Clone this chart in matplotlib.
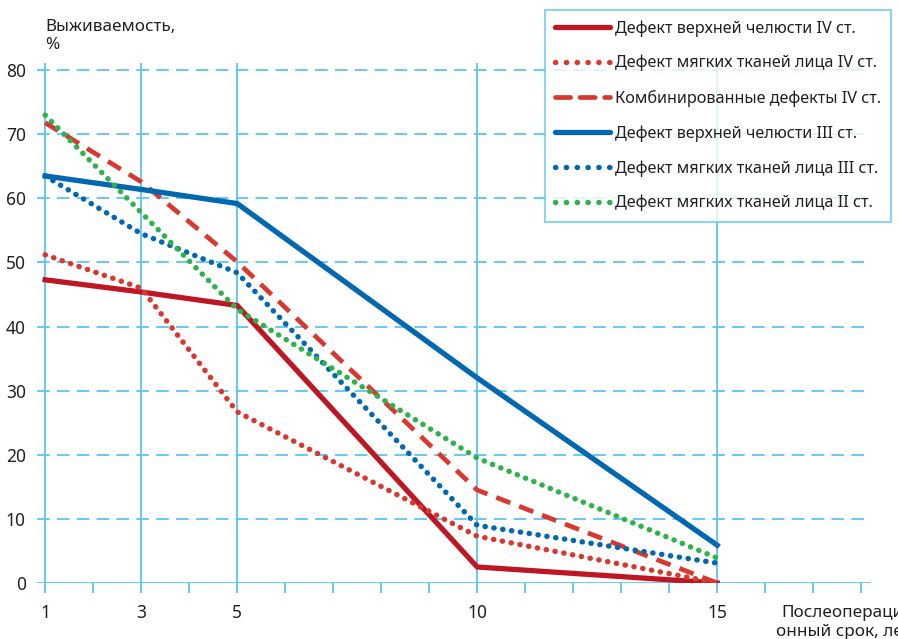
import matplotlib.pyplot as plt
from matplotlib.lines import Line2D

plt.rcParams['font.family'] = ['Noto Sans', 'DejaVu Sans']

# postoperative years
years = [1, 3, 5, 10, 15]
labelled_years = [1, 3, 5, 10, 15]

# survival, %
jaw_iv = [47.3, 45.4, 43.3, 2.5, 0]
soft_iv = [51.2, 46.0, 26.7, 7.3, 0]
combined_iv = [71.8, 62.6, 50.1, 14.5, 0]
jaw_iii = [63.5, 61.4, 59.2, 32.0, 5.9]
soft_iii = [63.5, 54.5, 48.4, 9.0, 3.1]
soft_ii = [73.0, 57.8, 42.7, 19.5, 3.9]

names = [
    "Дефект верхней челюсти IV ст.",
    "Дефект мягких тканей лица IV ст.",
    "Комбинированные дефекты IV ст.",
    "Дефект верхней челюсти III ст.",
    "Дефект мягких тканей лица III ст.",
    "Дефект мягких тканей лица II ст.",
]

grid_c = '#5BC5F0'
dark_red = '#BE1622'
red = '#D9382F'
blue = '#0067B1'
green = '#2DB34A'
text_c = '#231F20'

fig = plt.figure(figsize=(8.98, 6.39), dpi=100)
ax = fig.add_axes([37 / 898, 56 / 639, 833.8 / 898, 520.5 / 639])
ax.set_xlim(0.83, 18.2)
ax.set_ylim(0, 81.2)
for s in ax.spines.values():
    s.set_visible(False)

# grid
for v in range(10, 81, 10):
    ax.axhline(v, color=grid_c, lw=1.3, ls=(0, (7, 4)), zorder=1)
for x in labelled_years:
    ax.axvline(x, color=grid_c, lw=1.3, zorder=1)
ax.axhline(0, color=grid_c, lw=2, zorder=1)

ax.set_xticks(labelled_years)
ax.set_xticks(range(1, 19), minor=True)
ax.tick_params(axis='x', which='both', direction='out', length=7, width=1.3,
               color=grid_c, labelsize=12.5, pad=8, labelcolor=text_c)
ax.tick_params(axis='y', length=0, labelsize=12.5, pad=8, labelcolor=text_c)
ax.set_yticks(range(0, 81, 10))

dot = (0, (0.05, 1.6))
ax.plot(years, jaw_iv, color=dark_red, lw=3.8, solid_joinstyle='miter', zorder=3)
ax.plot(years, soft_iv, color=red, lw=3.9, ls=dot, dash_capstyle='round', zorder=3)
ax.plot(years, combined_iv, color=red, lw=3.4, ls=(0, (3.2, 2.0)), zorder=3)
ax.plot(years, jaw_iii, color=blue, lw=3.8, solid_joinstyle='miter', zorder=3)
ax.plot(years, soft_iii, color=blue, lw=3.9, ls=dot, dash_capstyle='round', zorder=3)
ax.plot(years, soft_ii, color=green, lw=3.9, ls=dot, dash_capstyle='round', zorder=3)

leg_dot = (0, (0.05, 1.95))
handles = [
    Line2D([], [], color=dark_red, lw=3.8, solid_capstyle='round'),
    Line2D([], [], color=red, lw=3.9, ls=leg_dot, dash_capstyle='round'),
    Line2D([], [], color=red, lw=3.4, ls=(0, (3.2, 2.0)), dash_capstyle='round'),
    Line2D([], [], color=blue, lw=3.8, solid_capstyle='round'),
    Line2D([], [], color=blue, lw=3.9, ls=leg_dot, dash_capstyle='round'),
    Line2D([], [], color=green, lw=3.9, ls=leg_dot, dash_capstyle='round'),
]
leg = ax.legend(handles, names, loc='upper left', bbox_to_anchor=(545 / 898, 1 - 10 / 639),
                bbox_transform=fig.transFigure, borderaxespad=0, frameon=True,
                fancybox=False, fontsize=11.7, handlelength=3.4, handletextpad=0.3,
                labelspacing=1.13, borderpad=0.62, labelcolor=text_c)
leg.get_frame().set_edgecolor(grid_c)
leg.get_frame().set_linewidth(1.3)
leg.set_zorder(5)

fig.text(45 / 898, 1 - 19 / 639, "Выживаемость,\n%", fontsize=12.3, color=text_c,
         ha='left', va='top', linespacing=1.2)
fig.text(781 / 898, 1 - 617 / 639, "Послеопераци-", fontsize=12.3,
         color=text_c, ha='left', va='baseline')
fig.text(776 / 898, 1 - 636 / 639, "онный срок, лет", fontsize=12.3,
         color=text_c, ha='left', va='baseline')

fig.savefig('out.png', dpi=100)
